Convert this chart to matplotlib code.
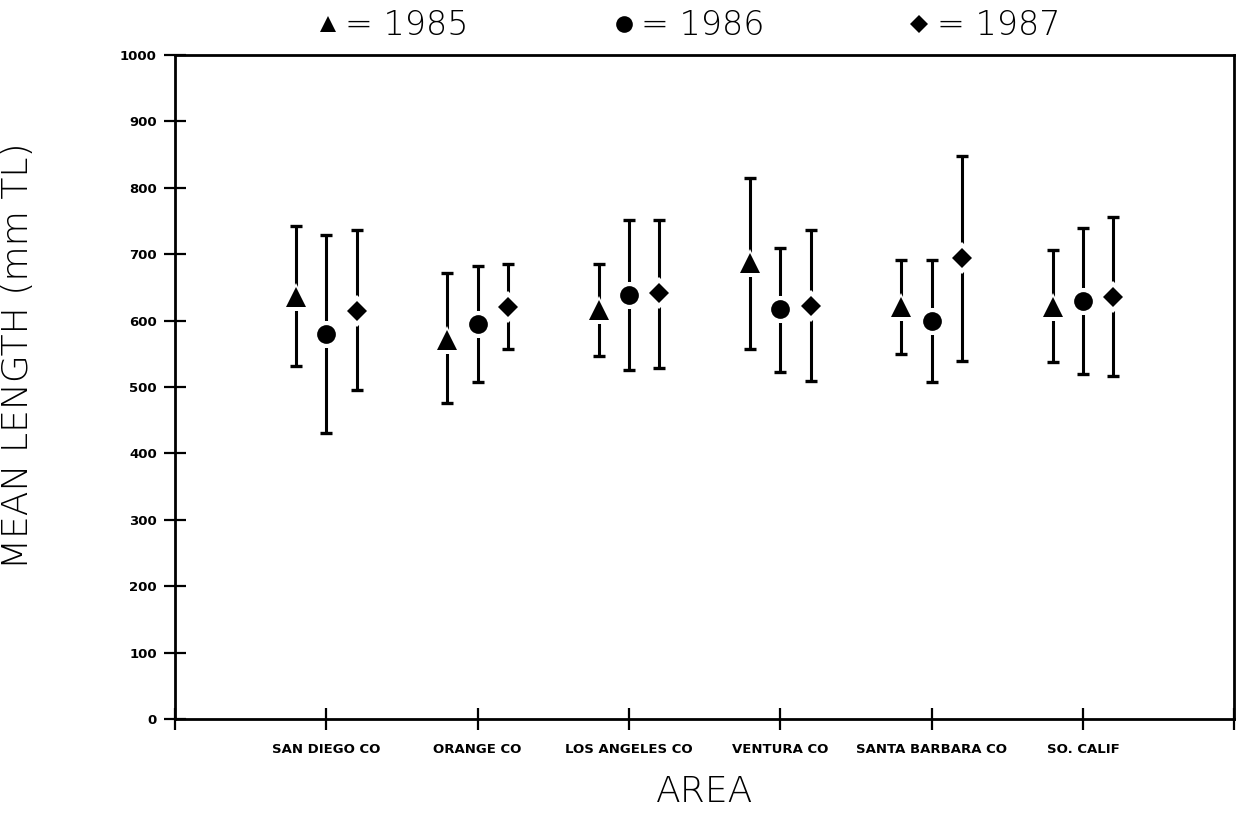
#!/usr/bin/env python3
"""Mean length (mm TL) by area for 1985-1987, with error bars."""

import matplotlib

matplotlib.use("Agg")
import matplotlib.pyplot as plt
from matplotlib.lines import Line2D
import numpy as np

AREAS = ["SAN DIEGO CO", "ORANGE CO", "LOS ANGELES CO",
         "VENTURA CO", "SANTA BARBARA CO", "SO. CALIF"]
YEARS = ["1985", "1986", "1987"]

# mean, lower and upper limits per year, one entry per area
MEAN_1985 = [636, 571, 616, 686, 620, 620]
LOW_1985 = [532, 476, 547, 557, 550, 537]
HIGH_1985 = [743, 672, 685, 815, 691, 706]

MEAN_1986 = [580, 595, 639, 617, 599, 630]
LOW_1986 = [430, 507, 526, 522, 508, 519]
HIGH_1986 = [729, 682, 752, 710, 692, 740]

MEAN_1987 = [615, 620, 641, 622, 694, 636]
LOW_1987 = [495, 557, 528, 509, 539, 517]
HIGH_1987 = [737, 685, 752, 736, 848, 756]

# (mean, low, high, marker, marker size, legend size, x offset)
SERIES = [
    (MEAN_1985, LOW_1985, HIGH_1985, "^", 14, 12, -0.2),
    (MEAN_1986, LOW_1986, HIGH_1986, "o", 13.5, 12, 0.0),
    (MEAN_1987, LOW_1987, HIGH_1987, "D", 10, 9.5, 0.2),
]

FONT = ["DejaVu Sans"]

fig = plt.figure(figsize=(12.41, 8.31), dpi=100)
ax = fig.add_axes([0.141, 0.1348, 0.8536, 0.799])

x = np.arange(1, len(AREAS) + 1)
for mean, low, high, marker, ms, _, dx in SERIES:
    mean = np.asarray(mean, dtype=float)
    yerr = [mean - np.asarray(low), np.asarray(high) - mean]
    ax.errorbar(x + dx, mean, yerr=yerr, fmt="none", ecolor="black",
                elinewidth=2.2, capsize=4.5, capthick=2.4, zorder=2)
    # white halo leaves a gap between the marker and its bar
    ax.plot(x + dx, mean, ls="none", marker=marker, ms=ms + 6,
            color="white", mew=0, zorder=3)
    ax.plot(x + dx, mean, ls="none", marker=marker, ms=ms,
            color="black", mew=0, zorder=4)

ax.set_xlim(0, len(AREAS) + 1)
ax.set_ylim(0, 1000)
ax.set_xticks(np.arange(0, len(AREAS) + 2))
ax.set_xticklabels([""] + AREAS + [""])
ax.set_yticks(np.arange(0, 1001, 100))

for side in ["left", "right", "top", "bottom"]:
    ax.spines[side].set_linewidth(2.0)
ax.tick_params(axis="both", direction="inout", length=16, width=1.6,
               colors="black")
ax.tick_params(axis="x", pad=9)
ax.tick_params(axis="y", pad=5)
for lab in ax.get_xticklabels() + ax.get_yticklabels():
    lab.set_fontsize(9.5)
    lab.set_fontweight("bold")
    lab.set_family(FONT)

label_font = dict(family=FONT, fontsize=26, fontweight="light")
ax.set_ylabel("MEAN LENGTH (mm TL)", **label_font)
ax.yaxis.set_label_coords(-0.132, 0.547)
ax.set_xlabel("AREA", labelpad=14, **label_font)

handles = [Line2D([], [], ls="none", marker=m, ms=lms, color="black", mew=0)
           for _, _, _, m, _, lms, _ in SERIES]
ax.legend(handles, [f"= {y}" for y in YEARS], ncol=3, frameon=False,
          loc="center", bbox_to_anchor=(0.486, 1.044), handlelength=0.5,
          handletextpad=0.27, columnspacing=4.4, borderpad=0,
          prop=dict(family=FONT, size=24, weight="light"))

fig.savefig("out.png", dpi=100)
